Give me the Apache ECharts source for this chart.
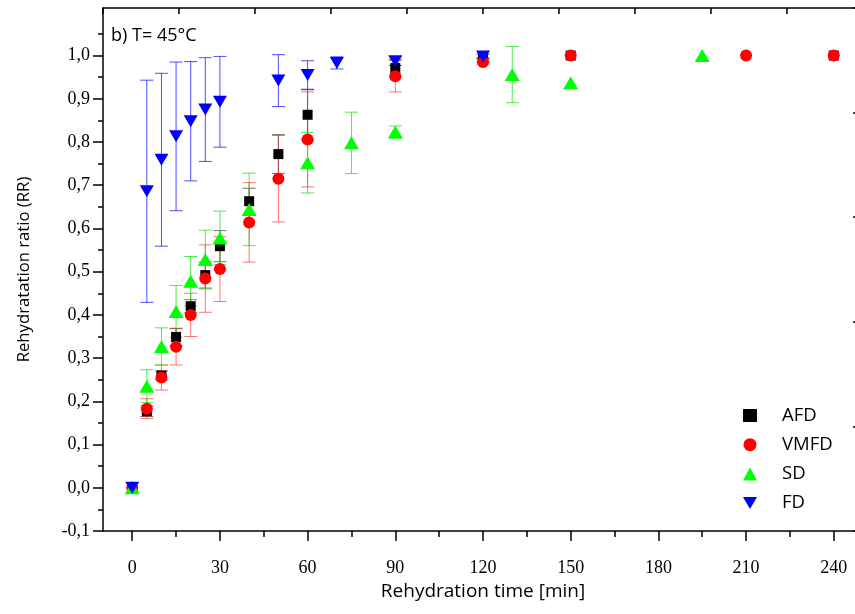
<!DOCTYPE html>
<html><head><meta charset="utf-8">
<script src="https://cdn.jsdelivr.net/npm/echarts@6/dist/echarts.min.js"></script>
<style>html,body{margin:0;padding:0;background:#fff}#c{width:855px;height:614px}</style>
</head><body><div id="c"></div>
<script>
// ---- data ----
const afdX   = [0, 5, 10, 15, 20, 25, 30, 40, 50, 60, 90, 120, 150, 240];
const afdY   = [0, 0.177, 0.26, 0.349, 0.42, 0.492, 0.559, 0.663, 0.772, 0.863, 0.971, 0.99, 1.0, 1.0];
const afdErr = [0, 0.012, 0.01, 0.02, 0.015, 0.03, 0.036, 0.03, 0.045, 0.058, 0.02, 0.005, 0.003, 0.003];

const vmfdX   = [0, 5, 10, 15, 20, 25, 30, 40, 50, 60, 90, 120, 150, 210, 240];
const vmfdY   = [0, 0.183, 0.255, 0.326, 0.40, 0.484, 0.506, 0.614, 0.715, 0.806, 0.952, 0.985, 1.0, 1.0, 1.0];
const vmfdErr = [0, 0.023, 0.029, 0.042, 0.05, 0.078, 0.075, 0.092, 0.10, 0.11, 0.036, 0.005, 0.003, 0, 0];

const sdX   = [0, 5, 10, 15, 20, 25, 30, 40, 60, 75, 90, 130, 150, 195];
const sdY   = [0, 0.235, 0.327, 0.408, 0.478, 0.528, 0.578, 0.644, 0.752, 0.798, 0.823, 0.956, 0.937, 1.0];
const sdErr = [0, 0.038, 0.043, 0.06, 0.057, 0.068, 0.062, 0.084, 0.07, 0.071, 0.014, 0.065, 0.003, 0];

const fdX   = [0, 5, 10, 15, 20, 25, 30, 50, 60, 70, 90, 120];
const fdY   = [0, 0.686, 0.759, 0.813, 0.848, 0.875, 0.893, 0.942, 0.955, 0.983, 0.987, 0.998];
const fdErr = [0, 0.257, 0.2, 0.172, 0.138, 0.12, 0.105, 0.06, 0.033, 0.014, 0.01, 0.005];

const xTickLabels = [0, 30, 60, 90, 120, 150, 180, 210, 240];
const xMinorTicks = [15, 45, 75, 105, 135, 165, 195, 225];
const yTickLabels = [-0.1, 0, 0.1, 0.2, 0.3, 0.4, 0.5, 0.6, 0.7, 0.8, 0.9, 1.0];
const yMinorTicks = [-0.05, 0.05, 0.15, 0.25, 0.35, 0.45, 0.55, 0.65, 0.75, 0.85, 0.95, 1.05];

// ---- helpers ----
const pts = (xs, ys) => xs.map((x, i) => [x, ys[i]]);
const errs = (xs, ys, es) => xs.map((x, i) => [x, ys[i] - es[i], ys[i] + es[i]]).filter((d, i) => es[i] > 0.004);

function errSeries(data, color) {
  return {
    type: 'custom', xAxisIndex: 0, yAxisIndex: 0, silent: true, data: data,
    renderItem: function (params, api) {
      const x = api.value(0), lo = api.value(1), hi = api.value(2);
      const a = api.coord([x, hi]), b = api.coord([x, lo]);
      const w = 6.5;
      const st = { stroke: color, lineWidth: 1 };
      return { type: 'group', children: [
        { type: 'line', shape: { x1: a[0], y1: a[1], x2: b[0], y2: b[1] }, style: st },
        { type: 'line', shape: { x1: a[0] - w, y1: a[1], x2: a[0] + w, y2: a[1] }, style: st },
        { type: 'line', shape: { x1: b[0] - w, y1: b[1], x2: b[0] + w, y2: b[1] }, style: st }
      ]};
    }
  };
}

const serif = '"Liberation Serif", "DejaVu Serif", serif';
const sans = '"Open Sans", "Noto Sans", sans-serif';
const axisLineStyle = { color: '#000', width: 1.5 };
const invTri = 'path://M0,0 L14,0 L7,12 Z';

const chart = echarts.init(document.getElementById('c'));
chart.setOption({
  animation: false,
  backgroundColor: '#fff',
  grid: { left: 103, top: 8, right: -8, bottom: 83, containLabel: false, outerBoundsMode: 'none' },
  legend: {
    orient: 'vertical', left: 738, top: 401, itemWidth: 14, itemHeight: 13, itemGap: 10.2,
    data: ['AFD', 'VMFD', 'SD', 'FD'],
    textStyle: { fontFamily: sans, fontSize: 18.5, color: '#000', padding: [0, 0, 0, 20] }
  },
  graphic: [{
    type: 'text', left: 111, top: 27,
    style: { text: 'b) T= 45°C', fontFamily: sans, fontSize: 18, fill: '#000' }
  }],
  xAxis: [
    {
      type: 'value', position: 'bottom', min: -10, max: 250,
      name: 'Rehydration time [min]', nameLocation: 'middle', nameGap: 50,
      nameTextStyle: { fontFamily: sans, fontSize: 19, color: '#000' },
      axisLine: { show: true, onZero: false, lineStyle: axisLineStyle },
      axisTick: { show: true, inside: false, length: 10, customValues: xTickLabels, lineStyle: { color: '#000', width: 1.5 } },
      axisLabel: { customValues: xTickLabels, margin: 28, fontFamily: serif, fontSize: 18, color: '#000' },
      splitLine: { show: false }
    },
    {
      type: 'value', position: 'bottom', min: -10, max: 250,
      axisLine: { show: false, onZero: false },
      axisTick: { show: true, inside: false, length: 6, customValues: xMinorTicks, lineStyle: { color: '#000', width: 1.5 } },
      axisLabel: { show: false }, splitLine: { show: false }
    },
    {
      type: 'value', position: 'top', min: 0, max: 10, interval: 1,
      axisLine: { show: true, onZero: false, lineStyle: axisLineStyle },
      axisTick: { show: true, inside: true, length: 6, lineStyle: { color: '#000', width: 1.5 } },
      axisLabel: { show: false }, splitLine: { show: false }
    }
  ],
  yAxis: [
    {
      type: 'value', position: 'left', min: -0.1, max: 1.11,
      name: 'Rehydratation ratio (RR)', nameLocation: 'middle', nameGap: 70, nameRotate: 90,
      nameTextStyle: { fontFamily: sans, fontSize: 16.7, color: '#000' },
      axisLine: { show: true, onZero: false, lineStyle: axisLineStyle },
      axisTick: { show: true, inside: false, length: 10, customValues: yTickLabels, lineStyle: { color: '#000', width: 1.5 } },
      axisLabel: {
        customValues: yTickLabels, margin: 13, fontFamily: serif, fontSize: 18, color: '#000',
        formatter: v => (Math.round(v * 10) / 10).toFixed(1).replace('.', ',')
      },
      splitLine: { show: false }
    },
    {
      type: 'value', position: 'left', min: -0.1, max: 1.11,
      axisLine: { show: false, onZero: false },
      axisTick: { show: true, inside: false, length: 5, customValues: yMinorTicks, lineStyle: { color: '#000', width: 1.5 } },
      axisLabel: { show: false }, splitLine: { show: false }
    },
    {
      type: 'value', position: 'right', min: 0, max: 5, interval: 1,
      axisLine: { show: true, onZero: false, lineStyle: axisLineStyle },
      axisTick: { show: true, inside: true, length: 10, lineStyle: { color: '#000', width: 1.5 } },
      axisLabel: { show: false }, splitLine: { show: false }
    }
  ],
  series: [
    errSeries(errs(afdX, afdY, afdErr), 'rgba(0,0,0,0.55)'),
    { name: 'AFD', type: 'scatter', symbol: 'rect', symbolSize: 10, itemStyle: { color: '#000', opacity: 1 }, data: pts(afdX, afdY) },
    errSeries(errs(vmfdX, vmfdY, vmfdErr), 'rgba(255,0,0,0.55)'),
    { name: 'VMFD', type: 'scatter', symbol: 'circle', symbolSize: 12, itemStyle: { color: '#ff0000', opacity: 1 }, data: pts(vmfdX, vmfdY) },
    errSeries(errs(sdX, sdY, sdErr), 'rgba(0,230,0,0.7)'),
    { name: 'SD', type: 'scatter', symbol: 'triangle', symbolSize: [15, 13], itemStyle: { color: '#00ff00', opacity: 1 }, data: pts(sdX, sdY) },
    errSeries(errs(fdX, fdY, fdErr), 'rgba(0,0,255,0.7)'),
    { name: 'FD', type: 'scatter', symbol: invTri, symbolSize: [14, 12], itemStyle: { color: '#0000ff', opacity: 1 }, data: pts(fdX, fdY) }
  ]
});
</script></body></html>
